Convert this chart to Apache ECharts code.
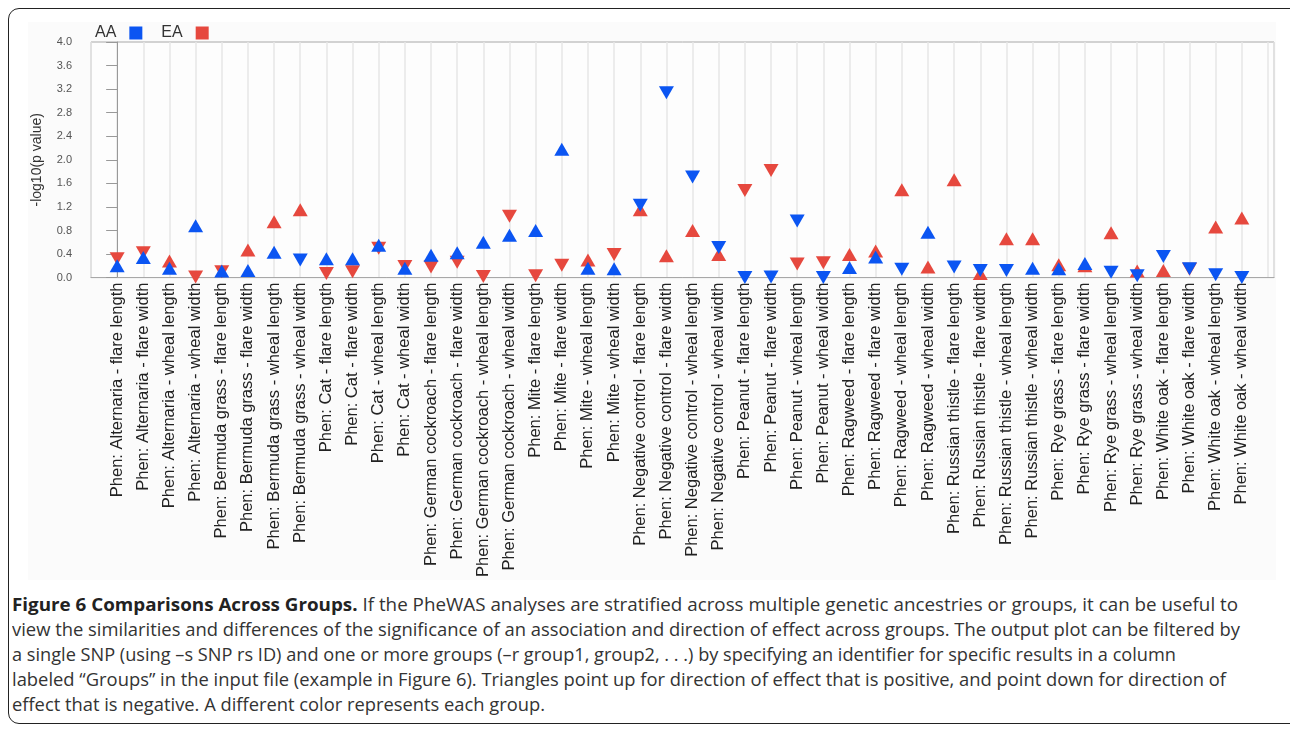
<!DOCTYPE html>
<html>
<head>
<meta charset="utf-8">
<script src="https://cdn.jsdelivr.net/npm/echarts@6/dist/echarts.min.js"></script>
<style>
  html, body { margin: 0; padding: 0; background: #fff; }
  #wrap { position: relative; width: 1290px; height: 730px; overflow: hidden; }
  #frame { position: absolute; left: 8px; top: 8px; width: 1300px; height: 716px; border: 1.5px solid #222; border-radius: 11px; box-sizing: border-box; }
  #imgbg { position: absolute; left: 28px; top: 22px; width: 1248px; height: 558px; background: #fbfbfb; }
  #chart { position: absolute; left: 0; top: 0; width: 1290px; height: 580px; }
  #caption { position: absolute; left: 12px; top: 592px; font-family: "Open Sans", sans-serif; font-size: 17.5px; line-height: 25px; color: #333; white-space: nowrap; }
  #caption .ln { display: block; height: 25px; }
  #caption .ln span.t { display: inline-block; transform-origin: 0 50%; }
  #caption b { color: #222; }
</style>
</head>
<body>
<div id="wrap">
  <div id="imgbg"></div>
  <div id="frame"></div>
  <div id="chart"></div>
  <div id="caption">
    <div class="ln" data-w="1226"><span class="t"><b>Figure 6 Comparisons Across Groups.</b> If the PheWAS analyses are stratified across multiple genetic ancestries or groups, it can be useful to</span></div>
    <div class="ln" data-w="1228"><span class="t">view the similarities and differences of the significance of an association and direction of effect across groups. The output plot can be filtered by</span></div>
    <div class="ln" data-w="1164"><span class="t">a single SNP (using –s SNP rs ID) and one or more groups (–r group1, group2, . . .) by specifying an identifier for specific results in a column</span></div>
    <div class="ln" data-w="1214"><span class="t">labeled “Groups” in the input file (example in Figure 6). Triangles point up for direction of effect that is positive, and point down for direction of</span></div>
    <div class="ln" data-w="533"><span class="t">effect that is negative. A different color represents each group.</span></div>
  </div>
</div>
<script>
const categories = [
  "Phen: Alternaria - flare length", "Phen: Alternaria - flare width", "Phen: Alternaria - wheal length", "Phen: Alternaria - wheal width",
  "Phen: Bermuda grass - flare length", "Phen: Bermuda grass - flare width", "Phen: Bermuda grass - wheal length", "Phen: Bermuda grass - wheal width",
  "Phen: Cat - flare length", "Phen: Cat - flare width", "Phen: Cat - wheal length", "Phen: Cat - wheal width",
  "Phen: German cockroach - flare length", "Phen: German cockroach - flare width", "Phen: German cockroach - wheal length", "Phen: German cockroach - wheal width",
  "Phen: Mite - flare length", "Phen: Mite - flare width", "Phen: Mite - wheal length", "Phen: Mite - wheal width",
  "Phen: Negative control - flare length", "Phen: Negative control - flare width", "Phen: Negative control - wheal length", "Phen: Negative control - wheal width",
  "Phen: Peanut - flare length", "Phen: Peanut - flare width", "Phen: Peanut - wheal length", "Phen: Peanut - wheal width",
  "Phen: Ragweed - flare length", "Phen: Ragweed - flare width", "Phen: Ragweed - wheal length", "Phen: Ragweed - wheal width",
  "Phen: Russian thistle - flare length", "Phen: Russian thistle - flare width", "Phen: Russian thistle - wheal length", "Phen: Russian thistle - wheal width",
  "Phen: Rye grass - flare length", "Phen: Rye grass - flare width", "Phen: Rye grass - wheal length", "Phen: Rye grass - wheal width",
  "Phen: White oak - flare length", "Phen: White oak - flare width", "Phen: White oak - wheal length", "Phen: White oak - wheal width"
];

// -log10(p value) per category
const aaValues = [0.20, 0.34, 0.16, 0.88, 0.11, 0.12, 0.43, 0.30, 0.32, 0.32, 0.55, 0.16,
                  0.38, 0.42, 0.60, 0.72, 0.80, 2.18, 0.16, 0.15, 1.23, 3.14, 1.71, 0.51,
                  0.00, 0.01, 0.96, 0.00, 0.17, 0.35, 0.14, 0.77, 0.18, 0.12, 0.12, 0.16,
                  0.15, 0.24, 0.09, 0.03, 0.36, 0.15, 0.05, 0.00];
// direction of effect: 1 = positive (up), -1 = negative (down)
const aaDirection = [1, 1, 1, 1, 1, 1, 1, -1, 1, 1, 1, 1,
                     1, 1, 1, 1, 1, 1, 1, 1, -1, -1, -1, -1,
                     -1, -1, -1, -1, 1, 1, -1, 1, -1, -1, -1, 1,
                     1, 1, -1, -1, -1, -1, -1, -1];
const eaValues = [0.32, 0.42, 0.28, 0.01, 0.10, 0.47, 0.95, 1.15, 0.07, 0.10, 0.50, 0.19,
                  0.18, 0.26, 0.02, 1.04, 0.03, 0.21, 0.30, 0.39, 1.15, 0.37, 0.80, 0.39,
                  1.48, 1.82, 0.23, 0.25, 0.39, 0.45, 1.49, 0.18, 1.66, 0.07, 0.66, 0.66,
                  0.22, 0.20, 0.76, 0.11, 0.12, 0.14, 0.86, 1.01];
const eaDirection = [-1, -1, 1, -1, -1, 1, 1, 1, -1, -1, -1, -1,
                     -1, -1, -1, -1, -1, -1, 1, -1, 1, 1, 1, 1,
                     -1, -1, -1, -1, 1, 1, 1, 1, 1, 1, 1, 1,
                     1, 1, 1, 1, 1, -1, 1, 1];
const yTicks = { min: 0, max: 4, interval: 0.4 };

const AA_COLOR = '#0b55f2';
const EA_COLOR = '#e6483e';
const FONT = 'Liberation Sans, Arial, sans-serif';

function buildData(values, dirs) {
  return values.map((v, i) => ({
    value: [i, v],
    symbolRotate: dirs[i] < 0 ? 180 : 0
  }));
}

const chart = echarts.init(document.getElementById('chart'), null, { renderer: 'canvas' });
chart.setOption({
  animation: false,
  backgroundColor: 'transparent',
  legend: {
    left: 95, top: 25, padding: 0,
    align: 'right',
    itemWidth: 13, itemHeight: 13, itemGap: 19,
    textStyle: { fontFamily: FONT, fontSize: 16, color: '#333', padding: [0, 8, 0, 0] },
    data: [
      { name: 'AA', icon: 'rect' },
      { name: 'EA', icon: 'rect' }
    ]
  },
  grid: {
    left: 91, top: 42, width: 1183, height: 236,
    show: true, borderColor: '#a8a8a8', borderWidth: 1, backgroundColor: '#fdfdfd'
  },
  xAxis: {
    type: 'value',
    min: -1, max: 44.23, interval: 1,
    axisLine: { show: true, lineStyle: { color: '#a8a8a8' } },
    axisTick: { show: false },
    splitLine: { show: true, lineStyle: { color: '#e6e6e6', width: 1.5 } },
    axisLabel: {
      rotate: 90,
      margin: 5,
      fontFamily: FONT,
      fontSize: 16.5,
      color: '#222',
      showMinLabel: false,
      showMaxLabel: false,
      formatter: function (v) {
        const i = Math.round(v);
        return (Math.abs(v - i) < 1e-6 && i >= 0 && i < categories.length) ? categories[i] : '';
      }
    }
  },
  yAxis: {
    type: 'value',
    min: yTicks.min, max: yTicks.max, interval: yTicks.interval,
    name: '-log10(p value)',
    nameLocation: 'middle',
    nameGap: 47,
    nameTextStyle: { fontFamily: FONT, fontSize: 14, color: '#333' },
    axisLine: { show: true, lineStyle: { color: '#999' } },
    axisTick: { show: true, inside: false, length: 11, lineStyle: { color: '#999' } },
    splitLine: { show: false },
    axisLabel: {
      margin: 19,
      fontFamily: FONT,
      fontSize: 11,
      color: '#555',
      formatter: v => v.toFixed(1)
    }
  },
  series: [
    {
      name: 'EA', type: 'scatter', symbol: 'triangle', symbolSize: [15, 13],
      itemStyle: { color: EA_COLOR, opacity: 1 },
      data: buildData(eaValues, eaDirection), z: 2
    },
    {
      name: 'AA', type: 'scatter', symbol: 'triangle', symbolSize: [15, 13],
      itemStyle: { color: AA_COLOR, opacity: 1 },
      data: buildData(aaValues, aaDirection), z: 3
    }
  ]
});

// fit caption lines to the widths of the original typeset lines
document.querySelectorAll('#caption .ln').forEach(function (ln) {
  const t = ln.querySelector('.t');
  const target = parseFloat(ln.getAttribute('data-w'));
  const w = t.getBoundingClientRect().width;
  if (w > 0) t.style.transform = 'scaleX(' + (target / w).toFixed(4) + ')';
});
</script>
</body>
</html>
